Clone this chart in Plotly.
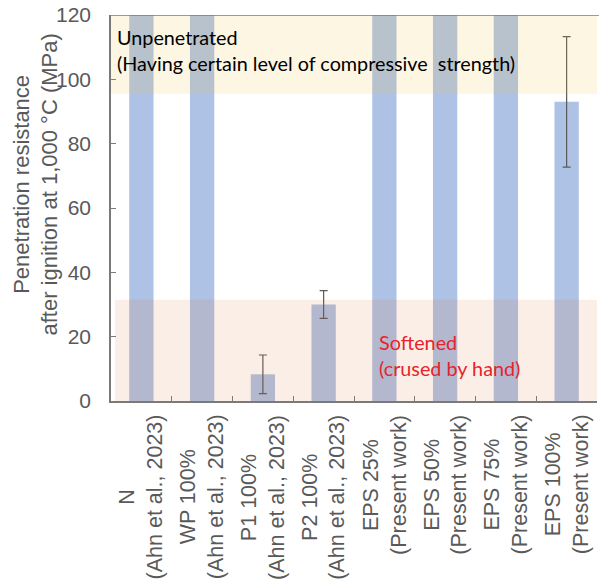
import plotly.graph_objects as go

# Sample groups (first line) and data sources (second line)
groups = ["N", "WP 100%", "P1 100%", "P2 100%", "EPS 25%", "EPS 50%", "EPS 75%", "EPS 100%"]
sources = ["(Ahn et al., 2023)"] * 4 + ["(Present work)"] * 4

# Penetration resistance (MPa); unpenetrated specimens run off the 120 MPa scale
OFF_SCALE = 150
resistance = [OFF_SCALE, OFF_SCALE, 8.3, 30.0, OFF_SCALE, OFF_SCALE, OFF_SCALE, 93.0]
err_plus = [0, 0, 6.0, 4.3, 0, 0, 0, 20.3]
err_minus = [0, 0, 6.0, 4.3, 0, 0, 0, 20.3]
show_err = [False, False, True, True, False, False, False, True]

# Zone limits (MPa)
unpen_low, unpen_high = 95.5, 120
soft_low, soft_high = 0, 31.5

y_ticks = [0, 20, 40, 60, 80, 100, 120]

GRAY = "#595959"
AXIS = "#7a7a7a"
SANS = "Liberation Sans, Arial"

fig = go.Figure()
fig.add_trace(go.Bar(
    x=groups,
    y=resistance,
    width=0.4,
    marker=dict(color="#adc2e4", line=dict(width=0)),
    error_y=dict(
        type="data",
        symmetric=False,
        array=[e if s else None for e, s in zip(err_plus, show_err)],
        arrayminus=[e if s else None for e, s in zip(err_minus, show_err)],
        color=GRAY,
        thickness=1.2,
        width=4,
    ),
    showlegend=False,
))

# Shaded zones drawn over the bars
fig.add_shape(type="rect", xref="paper", yref="y", x0=0, x1=1,
              y0=unpen_low, y1=unpen_high, layer="above",
              fillcolor="rgba(242,195,68,0.15)", line=dict(width=0))
fig.add_shape(type="rect", xref="paper", yref="y", x0=0.008, x1=1,
              y0=soft_low, y1=soft_high, layer="above",
              fillcolor="rgba(222,113,47,0.12)", line=dict(width=0))
# Top frame line
fig.add_shape(type="line", xref="paper", yref="y", x0=0, x1=1.004,
              y0=120, y1=120, layer="above",
              line=dict(color=AXIS, width=1.5))

# Category labels, two centred lines rotated upright
for g, s in zip(groups, sources):
    fig.add_annotation(x=g, xref="x", y=-0.03, yref="paper",
                       text=f"{g}<br>{s}", textangle=-90,
                       xanchor="center", yanchor="top", align="center",
                       showarrow=False,
                       font=dict(family=SANS, size=21.5, color=GRAY))

# Axis title
fig.add_annotation(x=-0.155, xref="paper", y=0.56, yref="paper",
                   text="Penetration resistance<br>after ignition at 1,000 °C (MPa)",
                   textangle=-90, xanchor="center", yanchor="middle", align="center",
                   showarrow=False,
                   font=dict(family=SANS, size=22, color=GRAY))

# Zone descriptions
fig.add_annotation(x=0.008, xref="paper", y=0.98, yref="paper",
                   text="Unpenetrated<br>(Having certain level of compressive\u00a0 strength)",
                   xanchor="left", yanchor="top", align="left", showarrow=False,
                   font=dict(family="Lato", size=19.8, color="#000000"))
fig.add_annotation(x=0.548, xref="paper", y=0.19, yref="paper",
                   text="Softened<br>(crused by hand)",
                   xanchor="left", yanchor="top", align="left", showarrow=False,
                   font=dict(family="Lato", size=19.8, color="#e8232a"))

fig.update_layout(
    width=599, height=583,
    margin=dict(l=111, r=2, t=15, b=182),
    plot_bgcolor="white", paper_bgcolor="white",
    bargap=0.6,
)
fig.update_xaxes(
    type="category", range=[-0.5, 7.5],
    showticklabels=False, tickson="boundaries",
    ticks="inside", ticklen=5, tickcolor=AXIS, tickwidth=1.2,
    showline=True, linecolor=AXIS, linewidth=1.5,
    showgrid=False, zeroline=False,
)
fig.update_yaxes(
    range=[0, 120], tickvals=y_ticks,
    ticks="inside", ticklen=5, tickcolor=AXIS, tickwidth=1.2,
    showline=True, linecolor=AXIS, linewidth=1.5,
    showgrid=False, zeroline=False,
    ticklabelstandoff=14,
    tickfont=dict(family=SANS, size=21, color=GRAY),
)

fig.write_html("out.html")
